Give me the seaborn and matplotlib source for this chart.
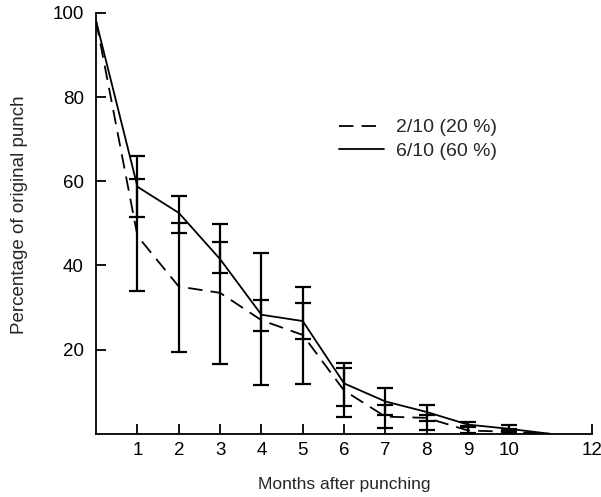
import matplotlib
matplotlib.use("Agg")
import matplotlib.pyplot as plt
import pandas as pd
import seaborn as sns

# values
months = [0, 1, 2, 3, 4, 5, 6, 7, 8, 9, 10, 11]
pct_20 = [98, 47, 35, 33.5, 27, 23.5, 10.3, 4.1, 3.8, 0.8, 0.5, 0]
pct_60 = [98, 58.7, 52.5, 41.5, 28.3, 26.8, 12, 7.7, 5.2, 2.2, 1.2, 0]

bar_months = [1, 2, 3, 4, 5, 6, 7, 8, 9, 10]
low_20 = [34, 19.5, 16.5, 11.5, 11.8, 4.1, 1.4, 1.0, 0.3, 0.2]
high_20 = [60.5, 50.0, 45.5, 42.9, 35.0, 16.8, 6.8, 4.5, 1.9, 1.2]
low_60 = [51.5, 47.7, 38.1, 24.4, 22.5, 6.7, 4.6, 3.1, 1.6, 0.6]
high_60 = [66, 56.5, 49.9, 31.9, 31.1, 15.6, 10.8, 6.9, 2.9, 2.2]

x_ticks = [1, 2, 3, 4, 5, 6, 7, 8, 9, 10, 12]
y_ticks = [20, 40, 60, 80, 100]

label_20 = "2/10 (20 %)"
label_60 = "6/10 (60 %)"

sns.set_style("ticks")
plt.rcParams["font.family"] = ["Liberation Sans", "DejaVu Sans"]

df = pd.DataFrame({
    "month": months * 2,
    "pct": pct_20 + pct_60,
    "group": [label_20] * len(months) + [label_60] * len(months),
})

fig = plt.figure(figsize=(6.01, 4.97), dpi=100)
ax = fig.add_axes([0.16, 0.127, 0.825, 0.847])

sns.lineplot(
    data=df, x="month", y="pct", hue="group", style="group",
    palette=["black", "black"], dashes=[(8, 4.5), ""],
    linewidth=1.3, ax=ax,
)

# error bars for both groups
for mean_vals, lows, highs in [(pct_20, low_20, high_20), (pct_60, low_60, high_60)]:
    centers = [mean_vals[months.index(m)] for m in bar_months]
    yerr = [
        [c - lo for c, lo in zip(centers, lows)],
        [hi - c for c, hi in zip(centers, highs)],
    ]
    ax.errorbar(bar_months, centers, yerr=yerr, fmt="none", ecolor="black",
                elinewidth=1.6, capsize=5.5, capthick=1.6)

ax.set_xlim(0, 12)
ax.set_ylim(0, 100)
ax.set_xticks(x_ticks)
ax.set_yticks(y_ticks)
ax.tick_params(direction="in", length=7, width=1.3, labelsize=13.5, colors="black")
ax.tick_params(axis="y", pad=9)
ax.tick_params(axis="x", pad=6)
sns.despine(ax=ax)
for side in ["left", "bottom"]:
    ax.spines[side].set_linewidth(1.3)
    ax.spines[side].set_color("black")

ax.set_xlabel("Months after punching", fontsize=12.5, labelpad=13)
ax.set_ylabel("Percentage of original punch", fontsize=13.5)
ax.yaxis.set_label_coords(-0.137, 0.52)

ax.legend(
    loc="upper left", bbox_to_anchor=(0.455, 0.79), frameon=False,
    fontsize=14, handlelength=2.3, handletextpad=0.6, labelspacing=0.3,
)

plt.savefig("out.png", dpi=100)
